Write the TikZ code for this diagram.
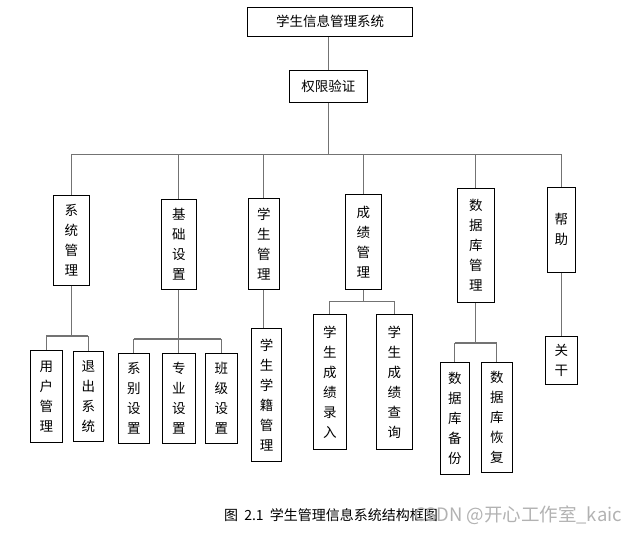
\documentclass[tikz,border=0pt]{standalone}
\usepackage{fontspec}
\setmainfont{Noto Sans CJK SC}

\begin{document}
\begin{tikzpicture}[x=1pt,y=-1pt,
    box/.style={draw=black,line width=0.8pt,inner sep=0pt,align=center,
                font=\fontsize{13.5}{20}\selectfont},
    link/.style={draw=black!55,line width=1.2pt}]
  \useasboundingbox (0,0) rectangle (640,533);
  % top levels
  \node[box,minimum width=165pt,minimum height=29pt] (xt)    at (330  ,21.7)  {学生信息管理系统};
  \node[box,minimum width=78pt, minimum height=32pt] (qx)    at (328.3,86.3)  {权限验证};
  % modules
  \node[box,minimum width=36pt,minimum height=90pt]  (xtgl)  at (71.3 ,240.2) {系\\统\\管\\理};
  \node[box,minimum width=35pt,minimum height=90pt]  (jcsz)  at (178.8,244.3) {基\\础\\设\\置};
  \node[box,minimum width=31pt,minimum height=91pt]  (xsgl)  at (263.8,243.8) {学\\生\\管\\理};
  \node[box,minimum width=36pt,minimum height=95pt]  (cjgl)  at (363.3,241.8) {成\\绩\\管\\理};
  \node[box,minimum width=37pt,minimum height=114pt] (sjkgl) at (475.8,245.3) {数\\据\\库\\管\\理};
  \node[box,minimum width=28pt,minimum height=85pt]  (bz)    at (561.3,229.8) {帮\\助};
  % functions
  \node[box,minimum width=32pt,minimum height=92pt]  (yhgl)  at (46.3 ,396.3) {用\\户\\管\\理};
  \node[box,minimum width=30pt,minimum height=90pt]  (tcxt)  at (88.3 ,396.3) {退\\出\\系\\统};
  \node[box,minimum width=31pt,minimum height=90pt]  (xbsz)  at (133.8,398.3) {系\\别\\设\\置};
  \node[box,minimum width=33pt,minimum height=90pt]  (zysz)  at (178.8,398)   {专\\业\\设\\置};
  \node[box,minimum width=32pt,minimum height=90pt]  (bjsz)  at (221.3,398)   {班\\级\\设\\置};
  \node[box,minimum width=30pt,minimum height=133pt] (xjgl)  at (266.5,394.7) {学\\生\\学\\籍\\管\\理};
  \node[box,minimum width=33pt,minimum height=135pt] (cjlr)  at (329.8,381.8) {学\\生\\成\\绩\\录\\入};
  \node[box,minimum width=36pt,minimum height=135pt] (cjcx)  at (394.3,381.8) {学\\生\\成\\绩\\查\\询};
  \node[box,minimum width=29pt,minimum height=112pt] (sjkbf) at (454.8,418.5) {数\\据\\库\\备\\份};
  \node[box,minimum width=31pt,minimum height=110pt] (sjkhf) at (496.8,417.3) {数\\据\\库\\恢\\复};
  \node[box,minimum width=32pt,minimum height=48pt]  (gy)    at (561.3,360.2) {关\\干};
  % bus lines
  \coordinate (bus)  at (0,154.3);
  \coordinate (busA) at (0,336);
  \coordinate (busB) at (0,339);
  \coordinate (busC) at (0,301.3);
  \coordinate (busD) at (0,343);
  \draw[link] (qx.north) -- (qx.north |- xt.south);
  \draw[link] (qx.south) -- (qx.south |- bus);
  \draw[link] (xtgl.north |- bus) -- (bz.north |- bus);
  \foreach \n in {xtgl,jcsz,xsgl,cjgl,sjkgl,bz}
    \draw[link] (\n.north) -- (\n.north |- bus);
  % system management
  \draw[link] (xtgl.south) -- (xtgl.south |- busA);
  \draw[link] (yhgl.north |- busA) -- (tcxt.north |- busA);
  \foreach \n in {yhgl,tcxt}
    \draw[link] (\n.north) -- (\n.north |- busA);
  % basic settings
  \draw[link] (jcsz.south) -- (jcsz.south |- busB);
  \draw[link] (xbsz.north |- busB) -- (bjsz.north |- busB);
  \foreach \n in {xbsz,zysz,bjsz}
    \draw[link] (\n.north) -- (\n.north |- busB);
  % student management
  \draw[link] (xsgl.south) -- (xsgl.south |- xjgl.north);
  % scores
  \draw[link] (cjgl.south) -- (cjgl.south |- busC);
  \draw[link] (cjlr.north |- busC) -- (cjcx.north |- busC);
  \foreach \n in {cjlr,cjcx}
    \draw[link] (\n.north) -- (\n.north |- busC);
  % database
  \draw[link] (sjkgl.south) -- (sjkgl.south |- busD);
  \draw[link] (sjkbf.north |- busD) -- (sjkhf.north |- busD);
  \foreach \n in {sjkbf,sjkhf}
    \draw[link] (\n.north) -- (\n.north |- busD);
  % help
  \draw[link] (bz.south) -- (bz.south |- gy.north);
  % caption
  \node[font=\fontsize{14}{16}\selectfont] (cap) at (331,515) {图\ \ 2.1\ \ 学生管理信息系统结构框图};
  \node[font=\fontsize{18.5}{20}\selectfont,text=black!30] (wm) at (518,515) {CSDN @开心工作室\_kaic};
\end{tikzpicture}
\end{document}
